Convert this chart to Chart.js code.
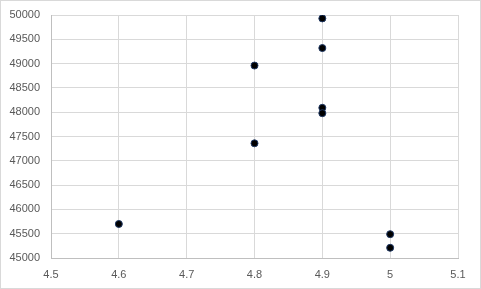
<!DOCTYPE html>
<html>
<head>
<meta charset="utf-8">
<script src="https://cdn.jsdelivr.net/npm/chart.js@4/dist/chart.umd.min.js"></script>
<style>
  html, body { margin: 0; padding: 0; background: #fff; }
  #wrap { width: 481px; height: 289px; box-sizing: border-box; border: 1px solid #d9d9d9; }
  #scatterChart { display: block; }
</style>
</head>
<body>
<div id="wrap"><canvas id="scatterChart" width="479" height="287"></canvas></div>
<script>
// data
var xValues = [4.6, 4.8, 4.8, 4.9, 4.9, 4.9, 4.9, 5.0, 5.0];
var yValues = [45700, 48960, 47360, 49930, 49320, 48090, 47980, 45490, 45210];
var xTicks = [4.5, 4.6, 4.7, 4.8, 4.9, 5, 5.1];
var yTicks = [45000, 45500, 46000, 46500, 47000, 47500, 48000, 48500, 49000, 49500, 50000];

var points = xValues.map(function (x, i) { return { x: x, y: yValues[i] }; });
var tickFont = { family: "'Liberation Sans', Arial, sans-serif", size: 11 };

var ctx = document.getElementById('scatterChart').getContext('2d');
new Chart(ctx, {
    type: 'scatter',
    data: {
        datasets: [{
            data: points,
            backgroundColor: '#000000',
            borderColor: '#1f3864',
            borderWidth: 1,
            pointRadius: 3.5,
            pointHoverRadius: 3.5
        }]
    },
    options: {
        responsive: false,
        animation: false,
        layout: { padding: { left: 0, right: 22, top: 14, bottom: 0 } },
        plugins: { legend: { display: false }, tooltip: { enabled: false } },
        scales: {
            x: {
                type: 'linear',
                min: xTicks[0],
                max: xTicks[xTicks.length - 1],
                afterBuildTicks: function (axis) { axis.ticks = xTicks.map(function (v) { return { value: v }; }); },
                afterFit: function (axis) { axis.height = 30; axis.paddingLeft = 0; axis.paddingRight = 0; },
                grid: { color: '#d9d9d9', drawTicks: false },
                border: { color: '#bfbfbf' },
                ticks: { color: '#595959', font: tickFont, padding: 10, maxRotation: 0,
                    callback: function (v) { return String(v); } }
            },
            y: {
                type: 'linear',
                min: yTicks[0],
                max: yTicks[yTicks.length - 1],
                afterBuildTicks: function (axis) { axis.ticks = yTicks.map(function (v) { return { value: v }; }); },
                afterFit: function (axis) { axis.width = 50; axis.paddingTop = 0; axis.paddingBottom = 0; },
                grid: { color: '#d9d9d9', drawTicks: false },
                border: { color: '#bfbfbf' },
                ticks: { color: '#595959', font: tickFont, padding: 11,
                    callback: function (v) { return String(v); } }
            }
        }
    }
});
</script>
</body>
</html>
